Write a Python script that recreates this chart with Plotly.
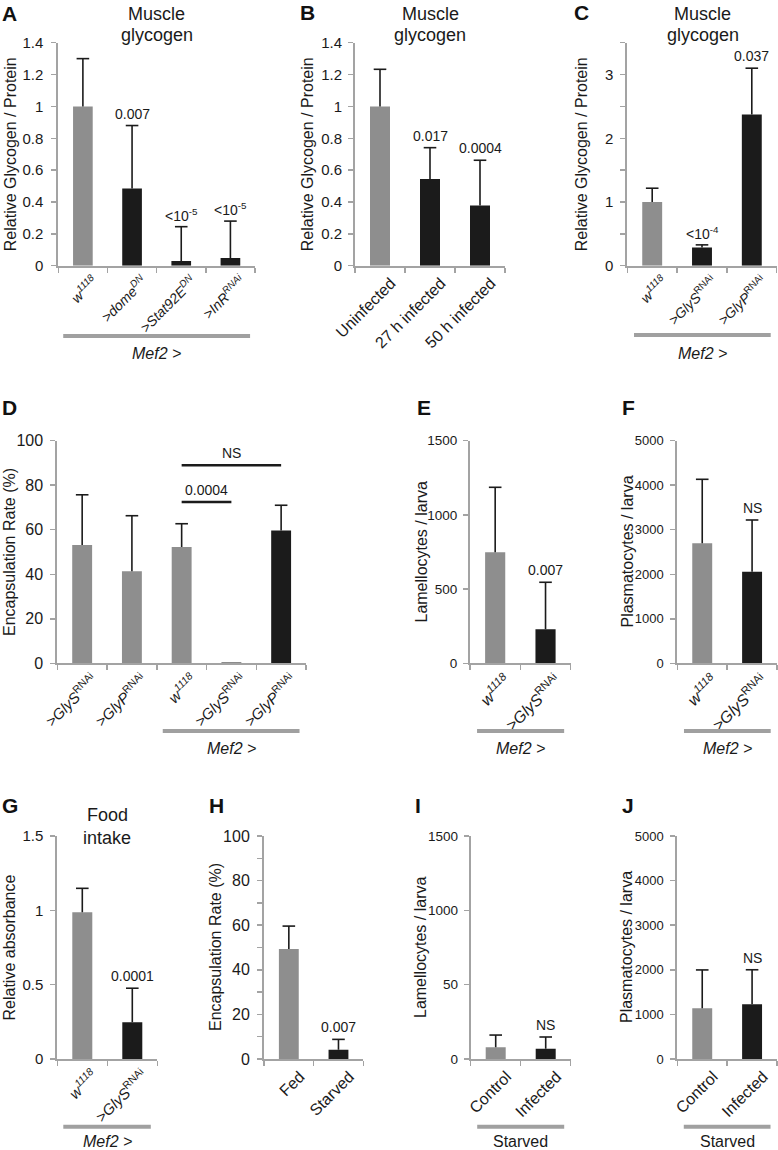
import plotly.graph_objects as go

W, H = 778, 1150
GRAY = "#8e8e8e"
BLACK = "#1b1b1b"
AXIS = "#a3a3a3"
TXT = "#1a1a1a"
FONT = "Liberation Sans, Arial, sans-serif"

# ---------------- data ----------------
A_labels = ["<i>w</i><sup><i>1118</i></sup>", "<i>>dome</i><sup><i>DN</i></sup>",
            "<i>>Stat92E</i><sup><i>DN</i></sup>", "<i>>InR</i><sup><i>RNAi</i></sup>"]
A_values = [1.0, 0.485, 0.03, 0.048]
A_errors = [0.30, 0.395, 0.215, 0.232]
A_pvals = ["", "0.007", "&lt;10<sup>-5</sup>", "&lt;10<sup>-5</sup>"]

B_labels = ["Uninfected", "27 h infected", "50 h infected"]
B_values = [1.0, 0.545, 0.378]
B_errors = [0.233, 0.196, 0.284]
B_pvals = ["", "0.017", "0.0004"]

C_labels = ["<i>w</i><sup><i>1118</i></sup>", "<i>>GlyS</i><sup>RNAi</sup>", "<i>>GlyP</i><sup>RNAi</sup>"]
C_values = [1.0, 0.284, 2.375]
C_errors = [0.216, 0.043, 0.725]
C_pvals = ["", "&lt;10<sup>-4</sup>", "0.037"]

D_labels = ["<i>>GlyS</i><sup>RNAi</sup>", "<i>>GlyP</i><sup>RNAi</sup>", "<i>w</i><sup><i>1118</i></sup>",
            "<i>&gt;GlyS</i><sup>RNAi</sup>", "<i>&gt;GlyP</i><sup>RNAi</sup>"]
D_values = [53.1, 41.3, 52.2, 0.4, 59.7]
D_errors = [22.6, 25.0, 10.5, 0, 11.3]
D_brackets_from = [2, 2]
D_brackets_to = [4, 3]
D_brackets_y = [89, 72.5]
D_brackets_text = ["NS", "0.0004"]

E_labels = ["<i>w</i><sup><i>1118</i></sup>", "<i>>GlyS</i><sup>RNAi</sup>"]
E_values = [748, 229]
E_errors = [438, 317]
E_pvals = ["", "0.007"]

F_labels = ["<i>w</i><sup><i>1118</i></sup>", "<i>>GlyS</i><sup>RNAi</sup>"]
F_values = [2695, 2058]
F_errors = [1438, 1161]
F_pvals = ["", "NS"]

G_labels = ["<i>w</i><sup><i>1118</i></sup>", "<i>>GlyS</i><sup>RNAi</sup>"]
G_values = [0.987, 0.247]
G_errors = [0.161, 0.229]
G_pvals = ["", "0.0001"]

H_labels = ["Fed", "Starved"]
H_values = [49.3, 4.2]
H_errors = [10.3, 4.6]
H_pvals = ["", "0.007"]

I_labels = ["Control", "Infected"]
I_values = [79, 69]
I_errors = [82, 79]
I_pvals = ["", "NS"]

J_labels = ["Control", "Infected"]
J_values = [1137, 1226]
J_errors = [860, 775]
J_pvals = ["", "NS"]

# tick labels
Y_glyc_vals = [0, 0.2, 0.4, 0.6, 0.8, 1.0, 1.2, 1.4]
Y_glyc_text = ["0", "0.2", "0.4", "0.6", "0.8", "1", "1.2", "1.4"]
C_yvals = [0, 0.5, 1, 1.5, 2, 2.5, 3, 3.5]
C_ytext = ["0", " ", "1", " ", "2", " ", "3", " "]
D_yvals = [0, 20, 40, 60, 80, 100]
D_ytext = ["0", "20", "40", "60", "80", "100"]
E_yvals = [0, 500, 1000, 1500]
E_ytext = ["0", "500", "1000", "1500"]
F_yvals = [0, 1000, 2000, 3000, 4000, 5000]
F_ytext = ["0", "1000", "2000", "3000", "4000", "5000"]
G_yvals = [0, 0.5, 1, 1.5]
G_ytext = ["0", "0.5", "1", "1.5"]
H_yvals = [0, 10, 20, 30, 40, 50, 60, 70, 80, 90, 100]
H_ytext = ["0", " ", "20", " ", "40", " ", "60", " ", "80", " ", "100"]
I_yvals = [0, 500, 1000, 1500]
I_ytext = ["0", "50", "1000", "1500"]
J_yvals = F_yvals
J_ytext = F_ytext


def px(x):
    return x / W


def py(y):
    return 1 - y / H


# ---------------- panel layout ----------------
panels = [
    dict(letter="A", labels=A_labels, values=A_values, errors=A_errors, pvals=A_pvals,
         colors=[GRAY, BLACK, BLACK, BLACK], xpx=(58.3, 255), ypx=(42.7, 265.7), yrange=1.4,
         yvals=Y_glyc_vals, ytext=Y_glyc_text, ytitle="Relative Glycogen / Protein", ytx=10,
         letpos=(0, 14), title=("Muscle", "glycogen"), titlex=156.7, titley=(14, 35),
         group=(-0.4, 3.4, 336, "<i>Mef2 &gt;</i>", 353), xfs=14, yfs=15, so=5),
    dict(letter="B", labels=B_labels, values=B_values, errors=B_errors, pvals=B_pvals,
         colors=[GRAY, BLACK, BLACK], xpx=(355, 505), ypx=(42.7, 265.7), yrange=1.4,
         yvals=Y_glyc_vals, ytext=Y_glyc_text, ytitle="Relative Glycogen / Protein", ytx=307,
         letpos=(298, 12.5), title=("Muscle", "glycogen"), titlex=430, titley=(14, 35), group=None,
         xfs=16, yfs=15, so=3),
    dict(letter="C", labels=C_labels, values=C_values, errors=C_errors, pvals=C_pvals,
         colors=[GRAY, BLACK, BLACK], xpx=(627.3, 776.7), ypx=(42.7, 265.7), yrange=3.5,
         yvals=C_yvals, ytext=C_ytext, ytitle="Relative Glycogen / Protein", ytx=581,
         letpos=(572, 13), title=("Muscle", "glycogen"), titlex=702.5, titley=(14, 35),
         group=(-0.365, 2.38, 335, "<i>Mef2 &gt;</i>", 353), xfs=14, yfs=15, so=4),
    dict(letter="D", labels=D_labels, values=D_values, errors=D_errors, pvals=None,
         colors=[GRAY, GRAY, GRAY, BLACK, BLACK], xpx=(57.3, 306), ypx=(440.7, 663.3), yrange=100,
         yvals=D_yvals, ytext=D_ytext, ytitle="Encapsulation Rate (%)", ytx=9,
         letpos=(0, 408), title=None, group=(1.62, 4.37, 731, "<i>Mef2 &gt;</i>", 748),
         xfs=15, yfs=16, so=4),
    dict(letter="E", labels=E_labels, values=E_values, errors=E_errors, pvals=E_pvals,
         colors=[GRAY, BLACK], xpx=(470, 570.7), ypx=(440.7, 663.3), yrange=1500,
         yvals=E_yvals, ytext=E_ytext, ytitle="Lamellocytes / larva", ytx=420.5,
         letpos=(415, 408), title=None, group=(-0.36, 1.37, 731, "<i>Mef2 &gt;</i>", 748),
         xfs=16, yfs=13.5, so=3),
    dict(letter="F", labels=F_labels, values=F_values, errors=F_errors, pvals=F_pvals,
         colors=[GRAY, BLACK], xpx=(677.3, 777), ypx=(440.7, 663.3), yrange=5000,
         yvals=F_yvals, ytext=F_ytext, ytitle="Plasmatocytes / larva", ytx=626.5,
         letpos=(620, 408), title=None, group=(-0.366, 1.374, 731, "<i>Mef2 &gt;</i>", 748),
         xfs=16, yfs=13, so=4),
    dict(letter="G", labels=G_labels, values=G_values, errors=G_errors, pvals=G_pvals,
         colors=[GRAY, BLACK], xpx=(57.3, 157.3), ypx=(836, 1059), yrange=1.5,
         yvals=G_yvals, ytext=G_ytext, ytitle="Relative absorbance", ytx=9,
         letpos=(0, 805), title=("Food", "intake"), titlex=107, titley=(815, 838),
         group=(-0.38, 1.37, 1126.7, "<i>Mef2 &gt;</i>", 1141), xfs=15, yfs=15, so=4),
    dict(letter="H", labels=H_labels, values=H_values, errors=H_errors, pvals=H_pvals,
         colors=[GRAY, BLACK], xpx=(264, 363.3), ypx=(836, 1059), yrange=100,
         yvals=H_yvals, ytext=H_ytext, ytitle="Encapsulation Rate (%)", ytx=215.5,
         letpos=(207, 805), title=None, group=None, xfs=16, yfs=16, so=4),
    dict(letter="I", labels=I_labels, values=I_values, errors=I_errors, pvals=I_pvals,
         colors=[GRAY, BLACK], xpx=(470.7, 570.7), ypx=(836, 1059), yrange=1500,
         yvals=I_yvals, ytext=I_ytext, ytitle="Lamellocytes / larva", ytx=420.5,
         letpos=(413, 805), title=None, group=(-0.37, 1.37, 1126.7, "Starved", 1141),
         xfs=16, yfs=13.5, so=3),
    dict(letter="J", labels=J_labels, values=J_values, errors=J_errors, pvals=J_pvals,
         colors=[GRAY, BLACK], xpx=(677.3, 777), ypx=(836, 1059), yrange=5000,
         yvals=J_yvals, ytext=J_ytext, ytitle="Plasmatocytes / larva", ytx=626.5,
         letpos=(620, 805), title=None, group=(-0.37, 1.37, 1126.7, "Starved", 1141),
         xfs=16, yfs=13, so=4),
]

fig = go.Figure()
annotations = []
shapes = []
layout = {}

for i, p in enumerate(panels, start=1):
    sx = "" if i == 1 else str(i)
    xa, ya = "x" + sx, "y" + sx
    n = len(p["labels"])
    tops = [v + e for v, e in zip(p["values"], p["errors"])]

    fig.add_trace(go.Bar(
        x=p["labels"], y=p["values"], xaxis=xa, yaxis=ya, width=0.4,
        marker=dict(color=p["colors"], line=dict(width=0)),
        error_y=dict(type="data", symmetric=False, array=p["errors"],
                     arrayminus=[0] * n, color=BLACK, thickness=1.6, width=0),
        showlegend=False, hoverinfo="skip"))
    fig.add_trace(go.Scatter(
        x=[l for l, e in zip(p["labels"], p["errors"]) if e > 0],
        y=[t for t, e in zip(tops, p["errors"]) if e > 0],
        xaxis=xa, yaxis=ya, mode="markers", cliponaxis=False,
        marker=dict(symbol="line-ew", size=9, line=dict(width=1.6, color=BLACK)),
        showlegend=False, hoverinfo="skip"))

    x0, x1 = p["xpx"]
    yt, yb = p["ypx"]
    layout["xaxis" + sx] = dict(
        domain=[px(x0), px(x1)], anchor=ya, type="category", range=[-0.5, n - 0.5],
        automargin=False,
        showline=True, linecolor=AXIS, linewidth=2, ticks="outside", ticklen=5, tickwidth=1.5,
        tickcolor=AXIS, tickson="boundaries", tickangle=-45, ticklabelshift=11,
        showgrid=False, zeroline=False,
        tickfont=dict(size=p["xfs"], color=TXT, family=FONT), fixedrange=True)
    layout["yaxis" + sx] = dict(
        domain=[py(yb), py(yt)], anchor=xa, range=[0, p["yrange"]],
        automargin=False,
        tickmode="array", tickvals=p["yvals"], ticktext=p["ytext"],
        showline=True, linecolor=AXIS, linewidth=2, ticks="outside", ticklen=5, tickwidth=1.5,
        tickcolor=AXIS, showgrid=False, zeroline=False, ticklabelstandoff=p["so"],
        tickfont=dict(size=p["yfs"], color=TXT, family=FONT), fixedrange=True)

    # y title
    annotations.append(dict(text=p["ytitle"], xref="paper", yref="paper", x=px(p["ytx"]),
                            y=py((yt + yb) / 2), xanchor="center", yanchor="middle",
                            textangle=-90, showarrow=False,
                            font=dict(size=16, color=TXT, family=FONT)))
    # panel letter
    lx, ly = p["letpos"]
    annotations.append(dict(text="<b>%s</b>" % p["letter"], xref="paper", yref="paper",
                            x=px(lx), y=py(ly), xanchor="left", yanchor="middle",
                            showarrow=False, font=dict(size=21, color="#111", family=FONT)))
    # title
    if p["title"]:
        for line, tyy in zip(p["title"], p["titley"]):
            annotations.append(dict(text=line, xref="paper", yref="paper", x=px(p["titlex"]),
                                    y=py(tyy), xanchor="center", yanchor="middle",
                                    showarrow=False, font=dict(size=18, color=TXT, family=FONT)))
    # p-values
    if p["pvals"]:
        for lab, t, pv in zip(p["labels"], tops, p["pvals"]):
            if pv:
                annotations.append(dict(text=pv, xref=xa, yref=ya, x=lab, y=t,
                                        xanchor="center", yanchor="middle", yshift=12,
                                        showarrow=False,
                                        font=dict(size=14, color=TXT, family=FONT)))
    # group underline
    if p["group"]:
        g0, g1, gy, gtext, gty = p["group"]
        shapes.append(dict(type="line", xref=xa, yref="paper", x0=g0, x1=g1,
                           y0=py(gy), y1=py(gy), line=dict(color="#a0a0a0", width=4)))
        annotations.append(dict(text=gtext, xref=xa, yref="paper", x=(g0 + g1) / 2, y=py(gty),
                                xanchor="center", yanchor="middle", showarrow=False,
                                font=dict(size=16, color=TXT, family=FONT)))

# D brackets
for bf, bt, by, btxt in zip(D_brackets_from, D_brackets_to, D_brackets_y, D_brackets_text):
    shapes.append(dict(type="line", xref="x4", yref="y4", x0=bf, x1=bt, y0=by, y1=by,
                       line=dict(color=BLACK, width=2.5)))
    annotations.append(dict(text=btxt, xref="x4", yref="y4", x=(bf + bt) / 2, y=by,
                            xanchor="center", yanchor="middle", yshift=12, showarrow=False,
                            font=dict(size=14, color=TXT, family=FONT)))

fig.update_layout(
    template="none",
    width=W, height=H, autosize=False,
    margin=dict(l=0, r=0, t=0, b=0, pad=0, autoexpand=False),
    paper_bgcolor="white", plot_bgcolor="white",
    font=dict(family=FONT, color=TXT),
    bargap=0.6, showlegend=False,
    annotations=annotations, shapes=shapes,
    **layout)

fig.write_html("out.html", config={"displayModeBar": False, "staticPlot": True},
               post_script="document.body.style.margin='0';")
